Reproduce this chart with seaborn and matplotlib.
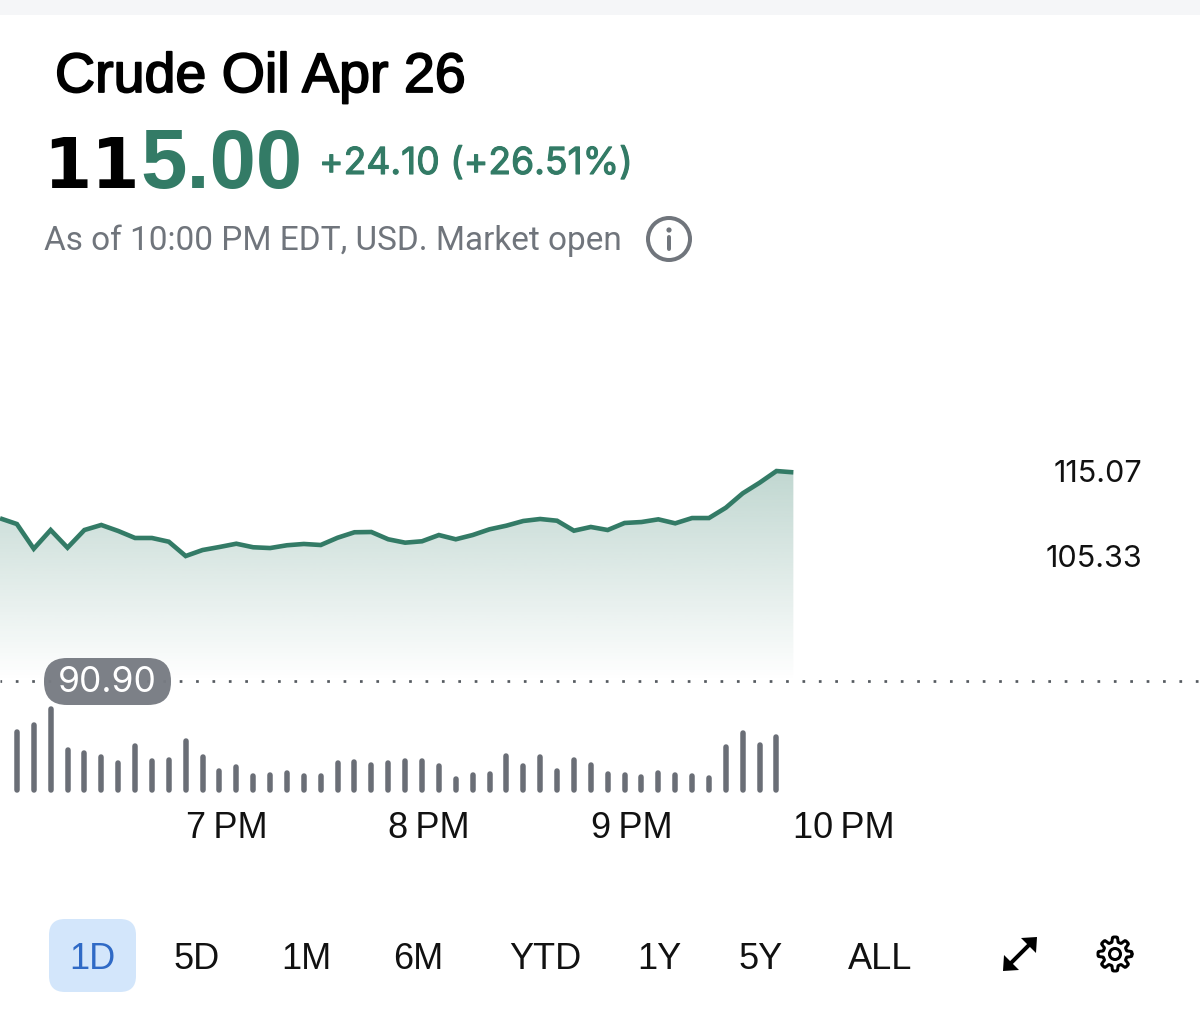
import numpy as np
import matplotlib
matplotlib.use("Agg")
import matplotlib.pyplot as plt
import matplotlib.patheffects as pe
from matplotlib.patches import Circle, FancyBboxPatch, Polygon, Rectangle
import seaborn as sns

W, H = 1200, 1035

# minutes after 6 PM
minutes = list(range(5, 245, 5))
prices = [109.66, 109.00, 106.15, 108.31, 106.27, 108.31, 108.89, 108.20, 107.39, 107.39,
          106.96, 105.31, 106.00, 106.35, 106.73, 106.32, 106.23, 106.55, 106.70, 106.58,
          107.42, 108.05, 108.08, 107.24, 106.85, 107.01, 107.73, 107.24, 107.73, 108.39,
          108.81, 109.35, 109.58, 109.38, 108.23, 108.66, 108.31, 109.12, 109.23, 109.54,
          109.08, 109.69, 109.69, 110.88, 112.54, 113.76, 115.11, 114.96]
volumes = [58, 65, 81, 40, 37, 33, 27, 44, 29, 30, 49, 33, 19, 23, 14, 15, 17, 14, 14, 27, 28, 25, 27,
           29, 29, 24, 11, 15, 16, 34, 24, 33, 19, 30, 25, 16, 15, 13, 17, 15, 14, 12, 43, 57, 45, 53]
prev_close = 90.90
y_labels = [105.33, 115.07]
hour_ticks = [60, 120, 180, 240]
hour_labels = ["7\u2009PM", "8\u2009PM", "9\u2009PM", "10\u2009PM"]
ranges = ["1D", "5D", "1M", "6M", "YTD", "1Y", "5Y", "ALL"]
range_x = [92, 197, 306, 418, 545, 659, 761, 880]

GREEN = "#337b66"
GREY = "#70757c"
BAR = "#6a6e76"


def px(n):
    """pixels to points"""
    return n * 72 / 100


def box(left, top, right, bottom):
    return [left / W, 1 - bottom / H, (right - left) / W, (bottom - top) / H]


def heavier(width, color):
    return [pe.withStroke(linewidth=width, foreground=color)]


sns.set_theme(style="white")
plt.rcParams["font.family"] = ["Liberation Sans", "DejaVu Sans"]

fig = plt.figure(figsize=(12, 10.35), dpi=100, facecolor="white")
xlim = (5, 360.45)

# price panel
ax = fig.add_axes(box(0, 400, W, 681))
ax.patch.set_alpha(0)
sns.lineplot(x=minutes, y=prices, color=GREEN, lw=px(4.6), ax=ax, zorder=4,
             solid_joinstyle="miter", solid_capstyle="butt", errorbar=None)
fill = ax.fill_between(minutes, prices, prev_close, color="none", lw=0)
grad = np.ones((256, 1, 4))
grad[..., :3] = matplotlib.colors.to_rgb("#2f7a65")
grad[:, 0, 3] = np.linspace(0.30, 0.0, 256)
img = ax.imshow(grad, extent=(5, 240, prev_close, 115.1), aspect="auto", zorder=2, origin="upper")
img.set_clip_path(fill.get_paths()[0], transform=ax.transData)
ax.axhline(prev_close, color="#555a60", lw=px(2.7), ls=(0.4, (1, 5.07)), clip_on=False, zorder=3)
ax.set_xlim(*xlim)
ax.set_ylim(prev_close, 123.3)
ax.set_xticks([])
ax.yaxis.tick_right()
ax.set_yticks(y_labels, [f"{v:.2f}" for v in y_labels], family="Inter", fontsize=22, color="#111111", ha="right")
ax.tick_params(axis="y", length=0, pad=-px(58))
sns.despine(ax=ax, left=True, bottom=True, right=True, top=True)

# volume panel
vol = fig.add_axes(box(0, 681, W, 790))
vol.patch.set_alpha(0)
bars = vol.vlines(minutes[1:47], 0, volumes, color=BAR, lw=px(5.5), clip_on=False)
bars.set_capstyle("round")
vol.set_xlim(*xlim)
vol.set_ylim(0, 109)
vol.set_yticks([])
vol.set_xticks(hour_ticks, hour_labels, ha="left", fontsize=26, color="#111111")
vol.tick_params(axis="x", length=0, pad=px(21))
sns.despine(ax=vol, left=True, bottom=True, right=True, top=True)

# header and controls, in image pixels
ui = fig.add_axes([0, 0, 1, 1], zorder=5)
ui.set_xlim(0, W)
ui.set_ylim(H, 0)
ui.axis("off")
ui.add_patch(Rectangle((0, 0), W, 15, color="#f5f6f8", lw=0))

ui.text(55, 92, "Crude Oil Apr 26", fontsize=40, color="black", va="baseline",
        path_effects=heavier(1.3, "black"))
ui.text(43, 188, "11", family="DejaVu Sans", fontsize=50, weight="bold", color="black", va="baseline")
ui.text(140, 188, "5.00", fontsize=60, weight="bold", color=GREEN, va="baseline")
ui.text(319, 174, "+24.10 (+26.51%)", family="Inter", fontsize=26.8, color=GREEN, va="baseline",
        path_effects=heavier(0.8, GREEN))
ui.text(44, 250, "As of 10:00 PM EDT, USD. Market open", family="Roboto", fontsize=24, color=GREY, va="baseline")

ui.add_patch(Circle((669, 239), 21, fill=False, ec=GREY, lw=px(4)))
ui.add_patch(Circle((669, 230), 2.6, color=GREY, lw=0))
ui.plot([669, 669], [237, 249], color=GREY, lw=px(4), solid_capstyle="round")

# previous close pill
ui.add_patch(FancyBboxPatch((44 + 23, 658 + 23), 127 - 46, 1, boxstyle="round,pad=23,rounding_size=23",
                            fc="#787c83", ec="none", alpha=0.97))
ui.text(107, 682, f"{prev_close:.2f}", family="Inter", fontsize=25.5, color="white", ha="center", va="center")

# range selector
ui.add_patch(FancyBboxPatch((49 + 16, 919 + 16), 87 - 32, 73 - 32, boxstyle="round,pad=16,rounding_size=16",
                            fc="#d3e6fb", ec="none"))
for name, x in zip(ranges, range_x):
    ui.text(x, 969, name, fontsize=26, ha="center", va="baseline",
            color="#2f6ac6" if name == "1D" else "#111111")

# expand icon
ui.plot([1010, 1030], [964, 944], color="black", lw=px(4))
ui.add_patch(Polygon([(1037, 937), (1021, 938), (1036, 953)], color="black", lw=0))
ui.add_patch(Polygon([(1003, 971), (1004, 955), (1019, 970)], color="black", lw=0))

# gear icon
angles = np.linspace(0, 2 * np.pi, 129)
radii = 14.5 + 2.5 * np.clip(2.2 * np.cos(8 * angles), -1, 1)
ui.plot(1115 + radii * np.cos(angles), 954 + radii * np.sin(angles), color="black", lw=px(3))
ui.add_patch(Circle((1115, 954), 5.5, fill=False, ec="black", lw=px(3)))

fig.savefig("out.png", dpi=100)
